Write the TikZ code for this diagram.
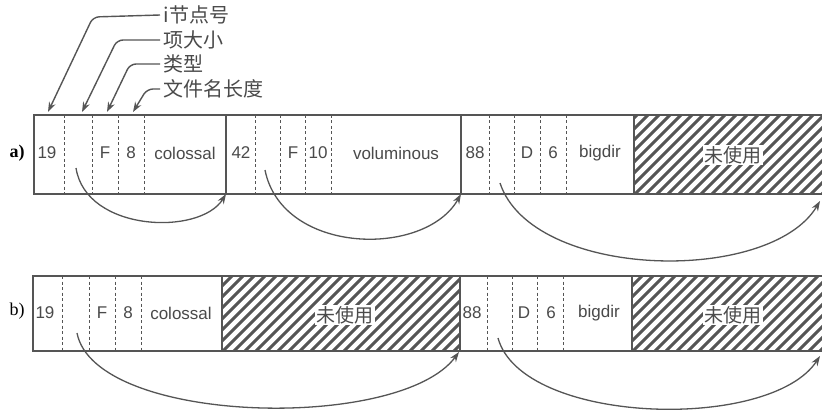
\documentclass[tikz,border=0pt]{standalone}
\usepackage{fontspec}
\setmainfont{Liberation Serif}
\setsansfont{Liberation Sans}
\newfontfamily\cjk{Noto Sans CJK SC}
\usetikzlibrary{arrows.meta}
\definecolor{ink}{HTML}{555555}
\definecolor{txt}{HTML}{4A4A4A}
\tikzset{
  rec/.style={draw=ink, line width=1.1pt},
  sep/.style={draw=ink, line width=0.7pt, dash pattern=on 3pt off 2.5pt},
  wall/.style={draw=ink, line width=1.1pt},
  fld/.style={font=\sffamily\fontsize{17}{19}\selectfont, text=txt, inner sep=0pt},
  cn/.style={font=\cjk\fontsize{20}{22}\selectfont, text=txt},
  unused/.style={font=\cjk\fontsize{19}{21}\selectfont, text=txt, fill=white, inner sep=1.5pt},
  rowlab/.style={font=\fontsize{18}{20}\selectfont, text=black},
  link/.style={draw=ink, line width=1.3pt, -{Stealth[length=10pt,width=7pt]}},
  lead/.style={draw=ink, line width=1.4pt, rounded corners=6pt, -{Stealth[length=10pt,width=7pt]}},
  hatch/.style={draw=ink, line width=3pt}
}
\newcommand{\hatchbox}[4]{%
  \begin{scope}
    \clip (#1,#2) rectangle (#3,#4);
    \foreach \k in {-120,-109,...,260} {\draw[hatch] (#1+\k,#4) -- ++(100,-100);}
  \end{scope}}
\begin{document}
\begin{tikzpicture}[x=1pt,y=-1pt]
\clip (0,0) rectangle (822,417);
\useasboundingbox (0,0) rectangle (822,417);
\fill[white] (0,0) rectangle (822,417);

% ---------- row a ----------
\hatchbox{634}{115}{830}{194}
\draw[rec] (34,115) rectangle (830,194);
\foreach \x in {64,92,118,144, 255,280,305,331, 489,514,540,566} {\draw[sep] (\x,115) -- (\x,194);}
\foreach \x in {226,461,634} {\draw[wall] (\x,115) -- (\x,194);}
\coordinate (a1) at (226,194);
\coordinate (a2) at (461,194);
\coordinate (a3) at (820,201);
\node[rowlab] (la) at (17,153) {\textbf{a)}};
\node[fld] (a19) at (47,153) {19};
\node[fld] (aF) at (105,153) {F};
\node[fld] (a8) at (131,153) {8};
\node[fld] (acol) at (185,153) {colossal};
\node[fld] (a42) at (241,153) {42};
\node[fld] (aF2) at (293,153) {F};
\node[fld] (a10) at (318,153) {10};
\node[fld] (avol) at (396,153) {voluminous};
\node[fld] (a88) at (475,153) {88};
\node[fld] (aD) at (527,153) {D};
\node[fld] (a6) at (553,153) {6};
\node[fld] (abig) at (600,153) {bigdir};
\node[unused] (aun) at (733,155) {未使用};

\coordinate (s1) at (76,168);
\coordinate (s2) at (265,170);
\coordinate (s3) at (500,183);
\draw[link] (s1) .. controls (86,232) and (200,236) .. (a1);
\draw[link] (s2) .. controls (282,255) and (425,258) .. (a2);
\draw[link] (s3) .. controls (532,280) and (770,285) .. (a3);

% ---------- leaders ----------
\node[cn, anchor=west] (t1) at (160,15) {i节点号};
\node[cn, anchor=west] (t2) at (160,40) {项大小};
\node[cn, anchor=west] (t3) at (160,64) {类型};
\node[cn, anchor=west] (t4) at (160,89) {文件名长度};
\coordinate (p1) at (48,112);
\coordinate (p2) at (82,112);
\coordinate (p3) at (107,112);
\coordinate (p4) at (133,112);
\draw[lead] (t1.west) -- (93,17) -- (p1);
\draw[lead] (t2.west) -- (117,40) -- (p2);
\draw[lead] (t3.west) -- (130,64) -- (p3);
\draw[lead] (t4.west) -- (147,89) -- (p4);

% ---------- row b ----------
\hatchbox{222}{276}{460}{351}
\hatchbox{632}{276}{830}{351}
\draw[rec] (33,276) rectangle (830,351);
\foreach \x in {62,89,115,141, 487,512,537,563} {\draw[sep] (\x,276) -- (\x,351);}
\foreach \x in {222,460,632} {\draw[wall] (\x,276) -- (\x,351);}
\coordinate (b1) at (459,352);
\coordinate (b2) at (820,356);
\node[rowlab] (lb) at (17,311) {b)};
\node[fld] (b19) at (45,313) {19};
\node[fld] (bF) at (102,313) {F};
\node[fld] (b8) at (128,313) {8};
\node[fld] (bcol) at (181,313) {colossal};
\node[unused] (bun1) at (345,315) {未使用};
\node[fld] (b88) at (472,313) {88};
\node[fld] (bD) at (524,313) {D};
\node[fld] (b6) at (551,313) {6};
\node[fld] (bbig) at (599,313) {bigdir};
\node[unused] (bun2) at (733,315) {未使用};

\coordinate (r1) at (77,333);
\coordinate (r2) at (498,338);
\draw[link] (r1) .. controls (95,425) and (400,432) .. (b1);
\draw[link] (r2) .. controls (522,425) and (770,432) .. (b2);
\end{tikzpicture}
\end{document}
